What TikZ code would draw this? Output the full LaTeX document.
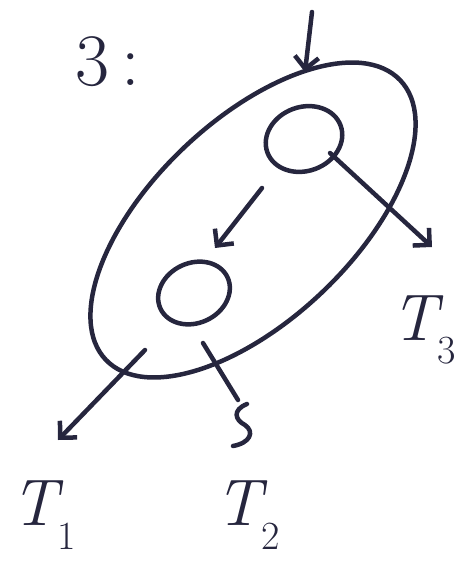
\documentclass[tikz,border=0pt]{standalone}
\usetikzlibrary{arrows.meta,shapes.geometric}
\begin{document}
\begin{tikzpicture}[x=1pt,y=-1pt,
  ink/.style={draw=inkc,line width=4.5pt,line cap=round,line join=round},
  arr/.style={ink,-{Straight Barb[length=12pt,width=24pt,line width=4.5pt]}},
  lbl/.style={text=inkc,font=\fontsize{74}{74}\selectfont},
  tl/.style={text=inkc,font=\fontsize{66}{66}\selectfont\itshape},
  blob/.style={ellipse,draw=inkc,line width=4.5pt,inner sep=0pt}]
\definecolor{inkc}{RGB}{38,38,62}
\newcommand{\subn}[1]{\raisebox{-0.36em}{\fontsize{40}{40}\selectfont\upshape #1}}
\useasboundingbox (0,0) rectangle (459,564);
% outer set
\node[blob,minimum width=406pt,minimum height=200pt,rotate=43.5] (set) at (253,220) {};
% inner nodes
\node[blob,minimum width=78pt,minimum height=64pt,rotate=20] (a) at (304,139) {};
\node[blob,minimum width=74pt,minimum height=60pt,rotate=25] (b) at (194,293) {};
% connectors
\coordinate (in) at (312,12);
\coordinate (e3) at (432,247);
\coordinate (s1) at (145,350);
\coordinate (e1) at (58,440);
\coordinate (s2) at (203,343);
\coordinate (m2) at (238,400);
\coordinate (ea) at (262,188);
\coordinate (eb) at (215,248);
\draw[arr] (in) -- (305,72);
\draw[arr] (ea) -- (eb);
\draw[arr] (330,153) -- (e3);
\draw[arr] (s1) -- (e1);
\draw[ink] (s2) -- (m2);
\draw[ink] (247,404) .. controls (232,410) and (235,420) .. (245,425)
  .. controls (255,432) and (250,443) .. (233,446);
% labels
\node[lbl] (n3) at (108,62) {3\,:};
\node[tl] (t1) at (44,515) {T\subn{1}};
\node[tl] (t2) at (248,515) {T\subn{2}};
\node[tl] (t3) at (424,330) {T\subn{3}};
\end{tikzpicture}
\end{document}
